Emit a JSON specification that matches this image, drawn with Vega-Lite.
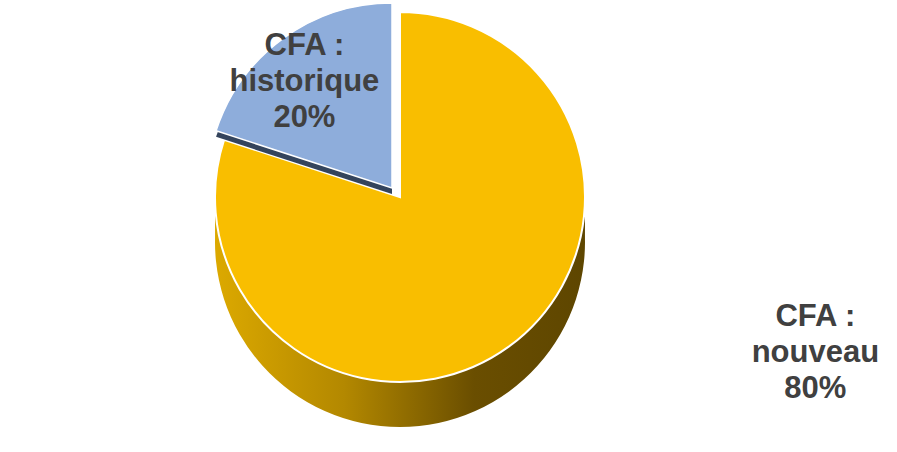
{
  "$schema": "https://vega.github.io/schema/vega-lite/v6.json",
  "width": 800,
  "height": 394,
  "autosize": {"type": "none"},
  "padding": {"left": 0, "top": 0, "right": 97, "bottom": 58},
  "background": "white",
  "view": {"stroke": null},
  "data": {
    "values": [
      {"categorie": "CFA : nouveau", "part": 80, "ord": 1, "label": "CFA :\nnouveau\n80%"},
      {"categorie": "CFA : historique", "part": 20, "ord": 2, "label": "CFA :\nhistorique\n20%"}
    ]
  },
  "encoding": {
    "theta": {"field": "part", "type": "quantitative", "stack": true},
    "order": {"field": "ord", "type": "quantitative", "sort": "ascending"}
  },
  "layer": [
    {
      "mark": {"type": "arc", "outerRadius": 185, "yOffset": 45, "stroke": null,
        "fill": {"gradient": "linear", "x1": 0, "y1": 0, "x2": 1, "y2": 0,
          "stops": [{"offset": 0, "color": "#DCA900"}, {"offset": 0.35, "color": "#B38800"}, {"offset": 0.7, "color": "#6A4E00"}, {"offset": 1, "color": "#5E4600"}]}},
      "encoding": {"opacity": {"condition": {"test": "datum.ord == 1", "value": 1}, "value": 0}}
    },
    {
      "mark": {"type": "arc", "outerRadius": 185, "yOffset": 30, "stroke": null,
        "fill": {"gradient": "linear", "x1": 0, "y1": 0, "x2": 1, "y2": 0,
          "stops": [{"offset": 0, "color": "#DCA900"}, {"offset": 0.35, "color": "#B38800"}, {"offset": 0.7, "color": "#6A4E00"}, {"offset": 1, "color": "#5E4600"}]}},
      "encoding": {"opacity": {"condition": {"test": "datum.ord == 1", "value": 1}, "value": 0}}
    },
    {
      "mark": {"type": "arc", "outerRadius": 185, "yOffset": 15, "stroke": null,
        "fill": {"gradient": "linear", "x1": 0, "y1": 0, "x2": 1, "y2": 0,
          "stops": [{"offset": 0, "color": "#DCA900"}, {"offset": 0.35, "color": "#B38800"}, {"offset": 0.7, "color": "#6A4E00"}, {"offset": 1, "color": "#5E4600"}]}},
      "encoding": {"opacity": {"condition": {"test": "datum.ord == 1", "value": 1}, "value": 0}}
    },
    {
      "mark": {"type": "arc", "outerRadius": 185, "fill": "#F9BE00", "stroke": "white", "strokeWidth": 2},
      "encoding": {"opacity": {"condition": {"test": "datum.ord == 1", "value": 1}, "value": 0}}
    },
    {
      "mark": {"type": "arc", "outerRadius": 185, "xOffset": -8, "yOffset": -3, "fill": "#34445C", "stroke": null},
      "encoding": {"opacity": {"condition": {"test": "datum.ord == 2", "value": 1}, "value": 0}}
    },
    {
      "mark": {"type": "arc", "outerRadius": 185, "xOffset": -8, "yOffset": -9, "fill": "#8EADDB", "stroke": "white", "strokeWidth": 1.5},
      "encoding": {"opacity": {"condition": {"test": "datum.ord == 2", "value": 1}, "value": 0}}
    },
    {
      "mark": {"type": "text", "radius": 115, "dx": -28, "dy": -58, "font": "Liberation Sans", "fontSize": 31, "fontWeight": "bold", "fill": "#404040", "align": "center", "baseline": "middle", "lineBreak": "\n", "lineHeight": 36},
      "encoding": {"text": {"condition": {"test": "datum.ord == 2", "field": "label", "type": "nominal"}, "value": ""}}
    },
    {
      "mark": {"type": "text", "radius": 215, "dx": 289, "dy": -54, "font": "Liberation Sans", "fontSize": 31, "fontWeight": "bold", "fill": "#404040", "align": "center", "baseline": "middle", "lineBreak": "\n", "lineHeight": 36},
      "encoding": {"text": {"condition": {"test": "datum.ord == 1", "field": "label", "type": "nominal"}, "value": ""}}
    }
  ]
}
